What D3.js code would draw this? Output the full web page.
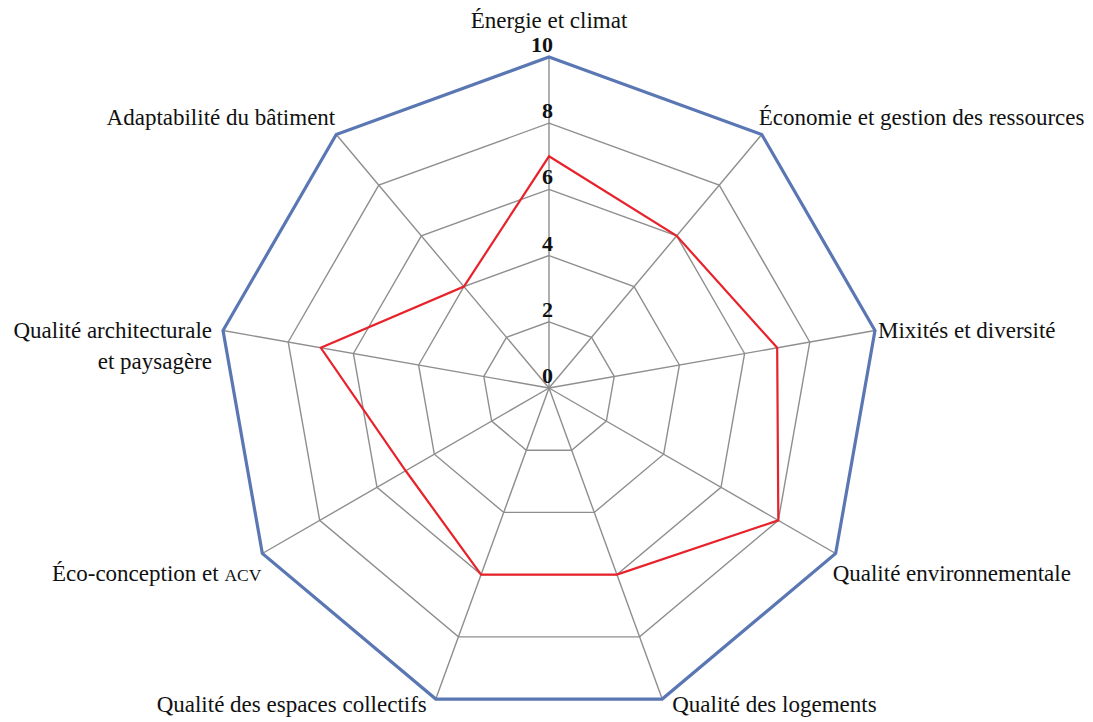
<!DOCTYPE html>
<html>
<head>
<meta charset="utf-8">
<script src="https://cdn.jsdelivr.net/npm/d3@7"></script>
<style>
  body { margin: 0; background: #fff; }
  svg text { font-family: "Liberation Serif", "DejaVu Serif", serif; fill: #111; }
</style>
</head>
<body>
<svg width="1093" height="722"></svg>
<script>
// axes of the radar, clockwise from the top
var categories = [
  "Énergie et climat",
  "Économie et gestion des ressources",
  "Mixités et diversité",
  "Qualité environnementale",
  "Qualité des logements",
  "Qualité des espaces collectifs",
  "Éco-conception et ACV",
  "Qualité architecturale\net paysagère",
  "Adaptabilité du bâtiment"
];

var maxValues = [10, 10, 10, 10, 10, 10, 10, 10, 10];
var scores    = [7, 6, 7, 8, 6, 6, 5, 7, 4];

var tickValues = [0, 2, 4, 6, 8, 10];

var svg = d3.select("svg");
var cx = 549, cy = 388;

var r = d3.scaleLinear()
  .domain([0, 10])
  .range([0, 331]);

var angle = d3.scaleLinear()
  .domain([0, categories.length])
  .range([0, 2 * Math.PI]);

function pt(i, v) {
  var a = angle(i);
  return [cx + r(v) * Math.sin(a), cy - r(v) * Math.cos(a)];
}

var line = d3.line()
  .x(function(d) { return d[0]; })
  .y(function(d) { return d[1]; })
  .curve(d3.curveLinearClosed);

var g = svg.append("g");

// grid rings (no outer ring, the max series draws it)
g.selectAll(".ring")
  .data(tickValues.filter(function(t) { return t > 0 && t < 10; }))
  .enter()
  .append("path")
  .attr("class", "ring")
  .attr("d", function(t) {
    return line(categories.map(function(c, i) { return pt(i, t); }));
  })
  .attr("fill", "none")
  .attr("stroke", "#8e8e8e")
  .attr("stroke-width", 1.4);

// spokes
g.selectAll(".spoke")
  .data(categories)
  .enter()
  .append("line")
  .attr("class", "spoke")
  .attr("x1", cx)
  .attr("y1", cy)
  .attr("x2", function(d, i) { return pt(i, 10)[0]; })
  .attr("y2", function(d, i) { return pt(i, 10)[1]; })
  .attr("stroke", "#8e8e8e")
  .attr("stroke-width", 1.4);

// max series
g.append("path")
  .attr("d", line(maxValues.map(function(v, i) { return pt(i, v); })))
  .attr("fill", "none")
  .attr("stroke", "#5a77b3")
  .attr("stroke-width", 3.2)
  .attr("stroke-linejoin", "miter");

// score series
g.append("path")
  .attr("d", line(scores.map(function(v, i) { return pt(i, v); })))
  .attr("fill", "none")
  .attr("stroke", "#e8222a")
  .attr("stroke-width", 2.2);

// tick labels on the top axis
g.selectAll(".tick")
  .data(tickValues)
  .enter()
  .append("text")
  .attr("class", "tick")
  .attr("x", cx + 4)
  .attr("y", function(t) { return cy - r(t) - 5; })
  .attr("text-anchor", "end")
  .attr("font-size", 22)
  .attr("font-weight", "bold")
  .text(function(t) { return t; });

// category labels
categories.forEach(function(c, i) {
  var a = angle(i);
  var s = Math.sin(a), co = Math.cos(a);
  var p = pt(i, 10);
  var anchor = "middle", dx = 0, dy;
  if (s > 0.1) { anchor = "start"; dx = -3; }
  if (s < -0.1) { anchor = "end"; dx = -1; }
  if (co > 0.9) dy = -29;
  else if (co > 0.5) dy = -9;
  else if (co > -0.2) dy = 7;
  else if (co > -0.8) dy = 27;
  else dy = 13;
  if (co < -0.8 && s > 0) dx = 10;
  if (co < -0.8 && s < 0) dx = -9;
  if (co > -0.2 && co < 0.5 && s < 0) dx = -11;
  if (co > -0.2 && co < 0.5 && s > 0) dx = 3;

  var lines = c.split("\n");
  var t = g.append("text")
    .attr("x", p[0] + dx)
    .attr("y", p[1] + dy)
    .attr("text-anchor", anchor)
    .attr("font-size", 23);
  lines.forEach(function(l, k) {
    var ts = t.append("tspan")
      .attr("x", p[0] + dx)
      .attr("dy", k === 0 ? 0 : 31);
    if (/ ACV$/.test(l)) {
      ts.text(l.replace(/ACV$/, ""));
      ts.append("tspan").attr("font-size", 17.5).text("ACV");
    } else {
      ts.text(l);
    }
  });
});
</script>
</body>
</html>
